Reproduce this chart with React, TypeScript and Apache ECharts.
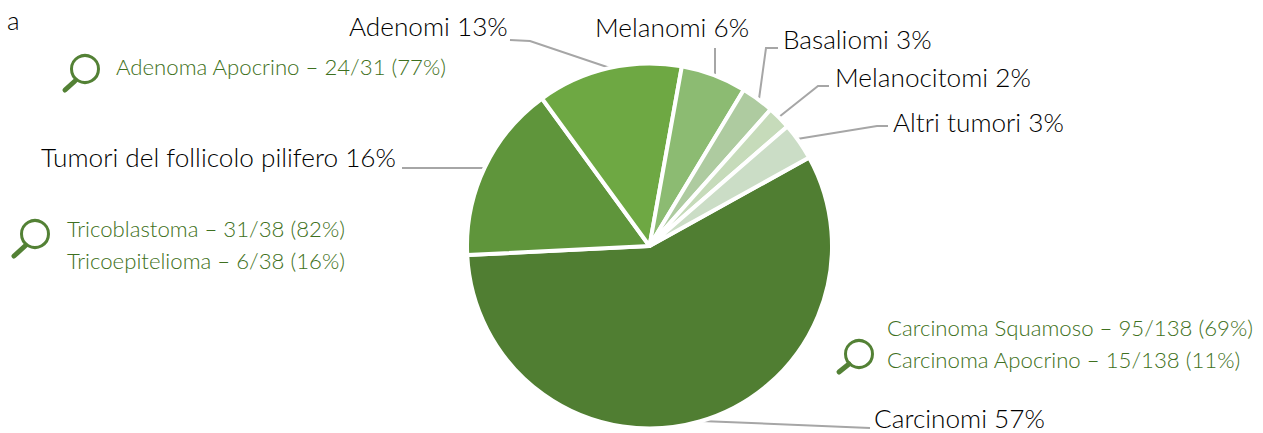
import React, { useEffect, useRef } from "react";
import * as echarts from "echarts";

const categories = ["Carcinomi", "Tumori del follicolo pilifero", "Adenomi", "Melanomi", "Basaliomi", "Melanocitomi", "Altri tumori"];
const counts = [138, 38, 31, 14, 7, 5, 8];
const colors = ["#507E32", "#5F953B", "#6EA843", "#8CBB72", "#AECBA0", "#C6DBBA", "#CBDDC6"];
const labelAnchors = [[874, 418], [41, 157], [349, 26], [595, 27], [783, 39], [835, 77], [893, 122]];
const leaderLines = [
  [[870, 428], [701, 421]],
  [[402, 168], [485, 168]],
  [[510, 40], [530, 41], [610, 68]],
  [[715, 48], [715, 76]],
  [[778, 48], [766, 48], [759, 99]],
  [[829, 86], [818, 86], [779, 117]],
  [[888, 126], [877, 126], [797, 139]],
];
const panelLabel = "a";
const notes = [
  { text: "Adenoma Apocrino – 24/31 (77%)", x: 116, y: 66 },
  { text: "Tricoblastoma – 31/38 (82%)", x: 67, y: 228 },
  { text: "Tricoepitelioma – 6/38 (16%)", x: 67, y: 260 },
  { text: "Carcinoma Squamoso – 95/138 (69%)", x: 887, y: 327 },
  { text: "Carcinoma Apocrino – 15/138 (11%)", x: 887, y: 359 },
];
const magnifiers = [
  { cx: 85, cy: 69, r: 13.5, hx0: 65, hy0: 90, hx1: 75, hy1: 81 },
  { cx: 35, cy: 234, r: 13.5, hx0: 14, hy0: 256, hx1: 25, hy1: 246 },
  { cx: 859, cy: 354, r: 13.5, hx0: 839, hy0: 372, hx1: 849, hy1: 364 },
];

const FONT = "Lato";
const GREEN = "#538135";
const NOTE_GREEN = "#3E7020";

export default function App() {
  const ref = useRef<HTMLDivElement>(null);
  useEffect(() => {
    const chart = echarts.init(ref.current!, null, { renderer: "svg" });
    const graphic: any[] = [
      { type: "text", x: 7, y: 20, style: { text: panelLabel, font: `300 26px ${FONT}`, fill: "#000", textVerticalAlign: "middle" } },
    ];
    notes.forEach((n) =>
      graphic.push({ type: "text", x: n.x, y: n.y, style: { text: n.text, font: `300 22.2px ${FONT}`, fill: NOTE_GREEN, textVerticalAlign: "middle" } })
    );
    magnifiers.forEach((m) => {
      graphic.push({ type: "circle", shape: { cx: m.cx, cy: m.cy, r: m.r }, style: { fill: "none", stroke: GREEN, lineWidth: 3 } });
      graphic.push({ type: "line", shape: { x1: m.hx0, y1: m.hy0, x2: m.hx1, y2: m.hy1 }, style: { stroke: GREEN, lineWidth: 5, lineCap: "round" } });
    });
    chart.setOption({
      animation: false,
      backgroundColor: "#ffffff",
      graphic,
      series: [
        {
          type: "pie",
          center: [649.5, 246],
          radius: 182.5,
          startAngle: 29,
          clockwise: true,
          silent: true,
          percentPrecision: 0,
          itemStyle: { borderColor: "#ffffff", borderWidth: 4 },
          label: {
            show: true,
            position: "outside",
            formatter: "{b} {d}%",
            fontFamily: FONT,
            fontWeight: 300,
            fontSize: 26.2,
            color: "#000000",
            padding: 0,
            overflow: "none",
          },
          labelLine: { show: true, length: 10, length2: 10, lineStyle: { color: "#a6a6a6", width: 2 } },
          labelLayout: (p: any) => ({
            x: labelAnchors[p.dataIndex][0],
            y: labelAnchors[p.dataIndex][1],
            align: "left",
            verticalAlign: "middle",
            labelLinePoints: leaderLines[p.dataIndex],
          }),
          data: categories.map((name, i) => ({ name, value: counts[i], itemStyle: { color: colors[i] } })),
        },
      ],
    });
    return () => chart.dispose();
  }, []);
  return <div ref={ref} style={{ position: "fixed", left: 0, top: 0, width: 1263, height: 433 }} />;
}
